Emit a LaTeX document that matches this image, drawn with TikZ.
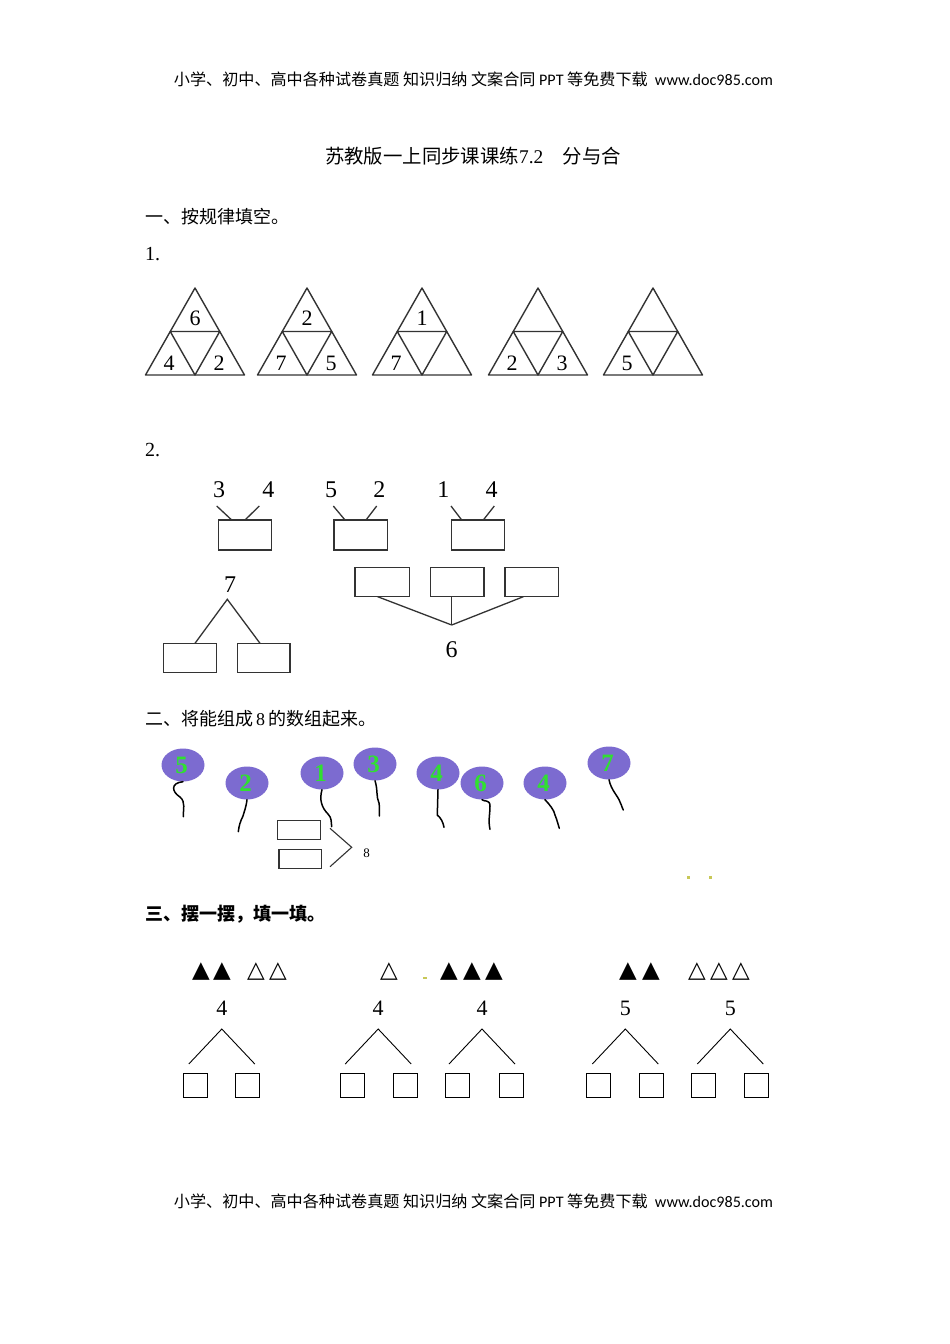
\documentclass[tikz,border=0pt]{standalone}
\usepackage{fontspec}
\usepackage{graphicx}
\setmainfont{Liberation Serif}
\newfontfamily\cjk{Noto Sans CJK SC}
\newfontfamily\carl{Carlito}
\newfontfamily\symf{DejaVu Sans}
\usetikzlibrary{shapes.geometric}
\definecolor{linegray}{HTML}{333333}
\definecolor{balloonpurple}{HTML}{7C6BD0}
\definecolor{balloongreen}{HTML}{30E030}
\definecolor{speck}{HTML}{C8C858}
\tikzset{
  heading/.style={anchor=west,inner sep=0pt,font=\fontsize{18}{20}\selectfont\cjk},
  trinum/.style={inner sep=0pt,font=\fontsize{22}{24}\selectfont},
  trline/.style={draw=linegray,line width=1.4pt,line join=round},
  bignum/.style={inner sep=0pt,font=\fontsize{24}{26}\selectfont},
  boxline/.style={draw=linegray,line width=1.3pt},
  wbox/.style={draw=linegray,line width=1.3pt,inner sep=0pt},
  balloon/.style={ellipse,fill=balloonpurple,minimum width=43pt,minimum height=33pt,inner sep=0pt,text=balloongreen,font=\fontsize{25}{26}\selectfont\bfseries},
  stringln/.style={draw=black,line width=1.5pt,line cap=round},
  smallbox/.style={draw=linegray,line width=1.1pt,inner sep=0pt},
  thinln/.style={draw=black,line width=0.9pt},
  sqbox/.style={draw=black,line width=1pt,inner sep=0pt,minimum width=24pt,minimum height=24pt},
  numC/.style={inner sep=0pt,font=\fontsize{22}{24}\selectfont},
  tri/.style={inner sep=0pt,font=\fontsize{23}{24}\selectfont\symf}
}
\newcommand{\bdigit}[1]{\hspace*{-3pt}\raisebox{-4pt}{#1}}
\begin{document}
\begin{tikzpicture}[x=1pt,y=-1pt]
\path[fill=white] (0,0) rectangle (950,1344);
\useasboundingbox (0,0) rectangle (950,1344);

% header and footer
\node[inner sep=0pt] (hdr) at (473.5,79) {\resizebox{599pt}{!}{\fontsize{15}{17}\selectfont\cjk 小学、初中、高中各种试卷真题 知识归纳 文案合同 {\carl PPT} 等免费下载\ \ {\carl www.doc985.com}}};
\node[inner sep=0pt] (ftr) at (473.5,1201) {\resizebox{599pt}{!}{\fontsize{15}{17}\selectfont\cjk 小学、初中、高中各种试卷真题 知识归纳 文案合同 {\carl PPT} 等免费下载\ \ {\carl www.doc985.com}}};

% title
\node[inner sep=0pt] (title) at (473,156) {\resizebox{296pt}{!}{\fontsize{17}{19}\selectfont\cjk 苏教版一上同步课课练{\rmfamily 7.2}\quad 分与合}};

% section 1
\node[heading] (h1) at (145,217) {一、按规律填空。};
\node[anchor=west,inner sep=0pt,font=\fontsize{20}{22}\selectfont] (q1) at (145,254) {1.};

\foreach \cx/\t/\l/\r [count=\i] in {195/6/4/2, 307/2/7/5, 422/1/7/{}, 538/{}/2/3, 653/{}/5/{}} {
  \coordinate (ta\i) at (\cx,288);
  \coordinate (tl\i) at (\cx-49.5,375);
  \coordinate (tr\i) at (\cx+49.5,375);
  \coordinate (ml\i) at (\cx-24.75,331.5);
  \coordinate (mr\i) at (\cx+24.75,331.5);
  \coordinate (bm\i) at (\cx,375);
  \draw[trline] (ta\i) -- (tl\i) -- (tr\i) -- cycle;
  \draw[trline] (ml\i) -- (mr\i) -- (bm\i) -- cycle;
  \node[trinum] (tt\i) at (\cx,318) {\t};
  \node[trinum] (tbl\i) at (\cx-26,363) {\l};
  \node[trinum] (tbr\i) at (\cx+24,363) {\r};
}

% section 1, question 2
\node[anchor=west,inner sep=0pt,font=\fontsize{20}{22}\selectfont] (q2) at (145,450) {2.};

\node[bignum] (a1) at (219,490) {3};
\node[bignum] (a2) at (268.3,490) {4};
\node[bignum] (a3) at (331,490) {5};
\node[bignum] (a4) at (379.3,490) {2};
\node[bignum] (a5) at (443.3,490) {1};
\node[bignum] (a6) at (491.7,490) {4};

\node[wbox,minimum width=53.4pt,minimum height=30pt] (b1) at (245,535) {};
\node[wbox,minimum width=53.7pt,minimum height=30pt] (b2) at (360.8,535) {};
\node[wbox,minimum width=52.6pt,minimum height=30pt] (b3) at (478,535) {};

\coordinate (c1a) at (216.7,506); \coordinate (c1b) at (231.7,520);
\coordinate (c2a) at (259.3,506); \coordinate (c2b) at (245,520);
\coordinate (c3a) at (333.3,506); \coordinate (c3b) at (345,520);
\coordinate (c4a) at (376.7,506); \coordinate (c4b) at (366,520);
\coordinate (c5a) at (451,506);   \coordinate (c5b) at (461.7,520);
\coordinate (c6a) at (494.3,506); \coordinate (c6b) at (483.3,520);
\foreach \k in {1,...,6} { \draw[boxline] (c\k a) -- (c\k b); }

% tree 7
\node[bignum] (n7) at (230,585) {7};
\coordinate (ap7) at (227.3,599.3);
\node[wbox,minimum width=53.4pt,minimum height=29pt] (b7l) at (190,657.8) {};
\node[wbox,minimum width=52.3pt,minimum height=29pt] (b7r) at (263.8,657.8) {};
\coordinate (f7l) at (195,643.3);
\coordinate (f7r) at (260,643.3);
\draw[boxline] (f7l) -- (ap7) -- (f7r);

% tree 6
\node[wbox,minimum width=54.3pt,minimum height=29pt] (b6a) at (382.2,582.2) {};
\node[wbox,minimum width=53.3pt,minimum height=29pt] (b6b) at (457.3,582.2) {};
\node[wbox,minimum width=53.7pt,minimum height=29pt] (b6c) at (531.8,582.2) {};
\coordinate (j6) at (451.7,625);
\coordinate (s6a) at (377.7,596.7);
\coordinate (s6b) at (451.7,596.7);
\coordinate (s6c) at (523.3,596.7);
\draw[boxline] (s6a) -- (j6);
\draw[boxline] (s6b) -- (j6);
\draw[boxline] (s6c) -- (j6);
\node[bignum] (n6) at (451.7,650) {6};

% section 2
\node[heading] (h2) at (145,719) {二、将能组成\,{\rmfamily 8}\,的数组起来。};

\node[balloon] (bl1) at (183,765) {\bdigit{5}};
\node[balloon] (bl2) at (247,783) {\bdigit{2}};
\node[balloon] (bl3) at (322,773) {\bdigit{1}};
\node[balloon] (bl4) at (375,764) {\bdigit{3}};
\node[balloon] (bl5) at (438,773) {\bdigit{4}};
\node[balloon] (bl6) at (482,783) {\bdigit{6}};
\node[balloon] (bl7) at (545,783) {\bdigit{4}};
\node[balloon] (bl8) at (609,763) {\bdigit{7}};

\coordinate (e1) at (183.3,816.7);
\coordinate (e2) at (238.3,831.7);
\coordinate (e3) at (331.7,826.7);
\coordinate (e4) at (379.3,816);
\coordinate (e5) at (444,827.3);
\coordinate (e6) at (490,829.3);
\coordinate (e7) at (559.3,828.3);
\coordinate (e8) at (623.3,810);

\draw[stringln] (bl1.south) .. controls (170,783) and (172,792) .. (180,797) .. controls (186,802) and (183,810) .. (e1);
\draw[stringln] (bl2.south) .. controls (246,808) and (244,812) .. (243,816) .. controls (240,822) and (239,826) .. (e2);
\draw[stringln] (bl3.south) .. controls (319,800) and (322,808) .. (328,814) .. controls (332,818) and (331,822) .. (e3);
\draw[stringln] (bl4.south) .. controls (378,790) and (376,797) .. (379,803) .. controls (380,808) and (379,812) .. (e4);
\draw[stringln] (bl5.south) -- (437.3,815) .. controls (441,818) and (443,822) .. (e5);
\draw[stringln] (bl6.south) .. controls (484,802) and (490,799) .. (490,806) .. controls (490,815) and (488,820) .. (e6);
\draw[stringln] (bl7.south) .. controls (550,805) and (554,810) .. (555,815) .. controls (557,820) and (558,824) .. (e7);
\draw[stringln] (bl8.south) .. controls (611,790) and (618,796) .. (620,802) .. controls (622,806) and (622,808) .. (e8);

\node[smallbox,minimum width=43pt,minimum height=18.6pt] (sb1) at (299.2,830) {};
\node[smallbox,minimum width=42.7pt,minimum height=19.3pt] (sb2) at (300.3,858.7) {};
\coordinate (k1) at (330,828.3);
\coordinate (k2) at (351.7,847.3);
\coordinate (k3) at (330,866.7);
\draw[thinln,draw=linegray,line width=1.1pt] (k1) -- (k2) -- (k3);
\node[inner sep=0pt,font=\fontsize{13}{14}\selectfont] (n8) at (366.7,853.3) {8};

\fill[speck] (687,875.5) rectangle (690,878.5);
\fill[speck] (709,875.5) rectangle (712,878.5);

% section 3
\node[heading,font=\fontsize{18}{20}\selectfont\cjk\bfseries] (h3) at (145,914) {三、摆一摆，填一填。};

\foreach \x/\g [count=\i] in {201/▲, 222/▲, 256/△, 278/△, 389/△, 449/▲, 472/▲, 494/▲, 628/▲, 651/▲, 697/△, 719/△, 741/△} {
  \node[tri] (g\i) at (\x,972) {\g};
}
\fill[speck] (423,977) rectangle (427,979);

\foreach \ax/\n [count=\i] in {221.8/4, 378.2/4, 482/4, 625.3/5, 730.3/5} {
  \node[numC] (tn\i) at (\ax,1008) {\n};
  \coordinate (tap\i) at (\ax,1029);
  \coordinate (tfl\i) at (\ax-33,1064);
  \coordinate (tfr\i) at (\ax+33,1064);
  \draw[thinln] (tfl\i) -- (tap\i) -- (tfr\i);
}
\foreach \bx [count=\i] in {195,247.5,352.5,405,457.5,511,598.4,651,703.5,756.5} {
  \node[sqbox] (sq\i) at (\bx,1085) {};
}
\end{tikzpicture}
\end{document}
